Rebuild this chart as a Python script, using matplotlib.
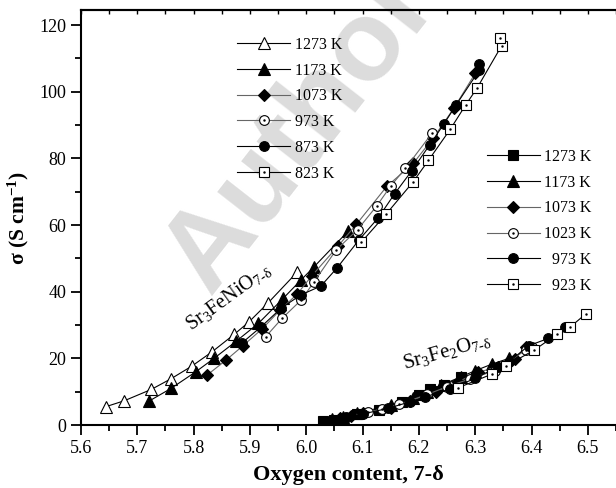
import matplotlib
matplotlib.use("Agg")
import matplotlib.pyplot as plt
from matplotlib.legend_handler import HandlerTuple
from matplotlib.ticker import MultipleLocator, FormatStrFormatter

plt.rcParams["font.family"] = ["Liberation Serif", "DejaVu Serif"]
plt.rcParams["mathtext.default"] = "regular"

# Sr3FeNiO7-d series (oxygen content, conductivity)
nio_1273_x = [5.644, 5.677, 5.725, 5.760, 5.797, 5.833, 5.872, 5.898, 5.932, 5.984]
nio_1273_y = [5.5, 7.3, 10.7, 13.9, 17.7, 22.0, 27.2, 30.9, 36.6, 45.9]
nio_1173_x = [5.721, 5.760, 5.804, 5.837, 5.876, 5.915, 5.959, 5.990, 6.014, 6.074]
nio_1173_y = [7.2, 11.0, 16.0, 20.1, 25.2, 30.5, 38.0, 43.4, 47.5, 58.1]
nio_1073_x = [5.824, 5.857, 5.887, 5.922, 5.953, 5.984, 6.010, 6.057, 6.089, 6.143, 6.190, 6.225, 6.262, 6.300]
nio_1073_y = [15.0, 19.4, 23.7, 28.9, 34.4, 39.3, 44.8, 53.8, 60.2, 71.6, 78.5, 86.0, 95.0, 105.5]
nio_973_x = [5.928, 5.957, 5.991, 6.014, 6.053, 6.091, 6.125, 6.150, 6.176, 6.224]
nio_973_y = [26.5, 32.0, 37.5, 43.0, 52.5, 58.6, 65.7, 71.7, 77.0, 87.7]
nio_873_x = [5.885, 5.920, 5.955, 5.990, 6.026, 6.055, 6.093, 6.128, 6.157, 6.187, 6.219, 6.244, 6.266, 6.307, 6.307]
nio_873_y = [24.5, 29.5, 35.0, 39.0, 41.7, 47.2, 55.4, 62.2, 69.4, 76.2, 84.0, 90.2, 96.0, 106.4, 108.3]
nio_823_x = [6.098, 6.142, 6.190, 6.217, 6.256, 6.283, 6.303, 6.347, 6.344]
nio_823_y = [54.9, 63.3, 73.0, 79.4, 88.8, 96.0, 101.0, 113.8, 116.1]

# Sr3Fe2O7-d series
fe_1273_x = [6.030, 6.050, 6.090, 6.130, 6.170, 6.200, 6.220, 6.245, 6.275]
fe_1273_y = [1.2, 1.6, 3.2, 4.5, 6.8, 9.0, 10.8, 12.0, 14.3]
fe_1173_x = [6.045, 6.065, 6.090, 6.150, 6.190, 6.215, 6.240, 6.275, 6.300, 6.330, 6.360]
fe_1173_y = [1.8, 2.5, 3.5, 6.0, 8.0, 10.0, 12.0, 14.5, 16.3, 18.3, 20.0]
fe_1073_x = [6.060, 6.080, 6.100, 6.150, 6.185, 6.230, 6.270, 6.305, 6.340, 6.370, 6.390]
fe_1073_y = [2.2, 2.8, 3.6, 5.2, 7.2, 10.0, 13.0, 15.8, 17.5, 19.8, 23.5]
fe_1023_x = [6.110, 6.135, 6.165, 6.215, 6.250, 6.290, 6.335, 6.390, 6.400]
fe_1023_y = [3.9, 4.8, 6.2, 9.2, 11.5, 13.8, 16.3, 22.5, 23.5]
fe_973_x = [6.070, 6.100, 6.145, 6.185, 6.210, 6.255, 6.300, 6.340, 6.360, 6.395, 6.430, 6.460]
fe_973_y = [2.4, 3.3, 5.0, 7.0, 8.4, 10.8, 14.0, 17.5, 19.0, 23.8, 26.0, 29.5]
fe_923_x = [6.270, 6.330, 6.355, 6.405, 6.445, 6.468, 6.496]
fe_923_y = [11.2, 15.3, 17.8, 22.5, 27.2, 29.3, 33.3]

nio_labels = ["1273 K", "1173 K", "1073 K", "973 K", "873 K", "823 K"]
fe_labels = ["1273 K", "1173 K", "1073 K", "1023 K", "  973 K", "  923 K"]

fig = plt.figure(figsize=(6.16, 4.88), dpi=100)
ax = fig.add_axes([0.1315, 0.129, 0.8685, 0.8505])

# watermark, behind everything
fig.text(0.49, 0.73, "Author", fontsize=82, color="#dcdcdc", rotation=52,
         ha="center", va="center", family="Liberation Sans", fontweight="bold", zorder=-1)
ax.patch.set_alpha(0)


def series(x, y, m, fill, lc="black", ms=7):
    face = "black" if fill else "white"
    ln, = ax.plot(x, y, "-", color=lc, lw=0.8, marker=m, ms=ms,
                  mfc=face, mec="black", mew=0.8)
    handle = ln
    if not fill and m in ("o", "s"):
        dot, = ax.plot(x, y, ls="none", marker=".", ms=1.5, color="black")
        handle = (ln, dot)
    return handle


h1 = [
    series(nio_1273_x, nio_1273_y, "^", False, ms=8),
    series(nio_1173_x, nio_1173_y, "^", True, ms=8),
    series(nio_1073_x, nio_1073_y, "D", True, "0.4", ms=6),
    series(nio_973_x, nio_973_y, "o", False, "0.4"),
    series(nio_873_x, nio_873_y, "o", True),
    series(nio_823_x, nio_823_y, "s", False, ms=6.5),
]
h2 = [
    series(fe_1273_x, fe_1273_y, "s", True, ms=6.5),
    series(fe_1173_x, fe_1173_y, "^", True, ms=8),
    series(fe_1073_x, fe_1073_y, "D", True, "0.4", ms=6),
    series(fe_1023_x, fe_1023_y, "o", False, "0.4"),
    series(fe_973_x, fe_973_y, "o", True),
    series(fe_923_x, fe_923_y, "s", False, ms=6.5),
]

hmap = {tuple: HandlerTuple(ndivide=1, pad=0)}
leg1 = ax.legend(h1, nio_labels, loc="upper left", bbox_to_anchor=(0.265, 0.970),
                 frameon=False, fontsize=11.5, handlelength=3.3, labelspacing=0.61,
                 handletextpad=0.3, handler_map=hmap)
ax.add_artist(leg1)
ax.legend(h2, fe_labels, loc="upper left", bbox_to_anchor=(0.732, 0.700),
          frameon=False, fontsize=11.5, handlelength=3.3, labelspacing=0.61,
          handletextpad=0.3, handler_map=hmap)

ax.text(5.862, 38.5, "Sr$_3$FeNiO$_{7\u2010\u03b4}$", fontsize=14.5, rotation=36,
        ha="center", va="center")
ax.text(6.249, 22.0, "Sr$_3$Fe$_2$O$_{7\u2010\u03b4}$", fontsize=15, rotation=16,
        ha="center", va="center")

ax.set_xlim(5.6, 6.55)
ax.set_ylim(0, 124.5)
ax.xaxis.set_major_locator(MultipleLocator(0.1))
ax.xaxis.set_minor_locator(MultipleLocator(0.05))
ax.yaxis.set_major_locator(MultipleLocator(20))
ax.yaxis.set_minor_locator(MultipleLocator(10))
ax.xaxis.set_major_formatter(FormatStrFormatter("%.1f"))
ax.tick_params(which="both", direction="out", labelsize=13, width=1.3)
ax.tick_params(which="major", length=7)
ax.tick_params(which="minor", length=4.5)
for s in ax.spines.values():
    s.set_linewidth(1.5)
ax.spines["right"].set_visible(False)

# short inward ticks along the top frame
top = ax.secondary_xaxis("top")
top.xaxis.set_major_locator(MultipleLocator(0.05))
top.tick_params(direction="in", length=3, width=1.0, labeltop=False)
top.spines["top"].set_linewidth(1.5)

ax.set_xlabel("Oxygen content, 7-\u03b4", fontsize=16, fontweight="bold", labelpad=6)
ax.set_ylabel("\u03c3 (S cm$^{-1}$)", fontsize=15.5, fontweight="bold", labelpad=6)

fig.savefig("out.png", dpi=100)
